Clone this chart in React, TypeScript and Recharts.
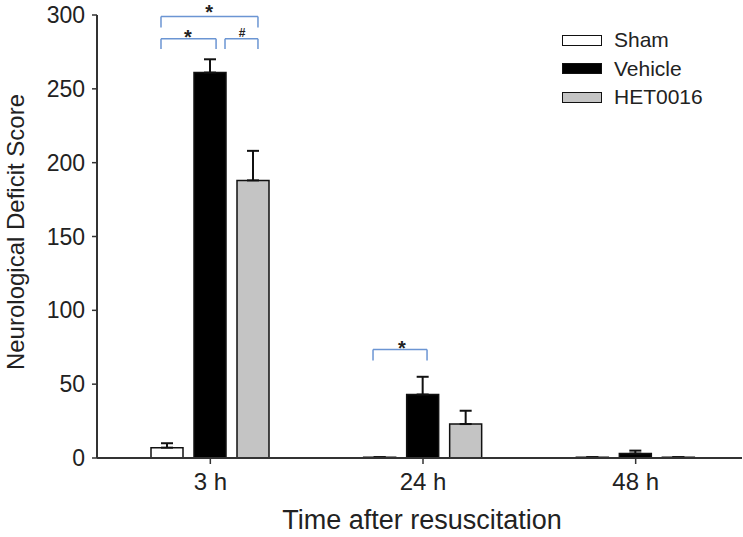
import { BarChart, Bar, XAxis, YAxis, ErrorBar, ReferenceLine, ReferenceDot } from 'recharts';

const categories = ['3 h', '24 h', '48 h'];
const shamMean = [7, 0.5, 0.5];
const shamErr = [3, 0, 0];
const vehicleMean = [261, 43, 3];
const vehicleErr = [9, 12, 2];
const hetMean = [188, 23, 0.5];
const hetErr = [20, 9, 0];
const yTicks = [0, 50, 100, 150, 200, 250, 300];

// significance brackets, x in group units (0..3), y in score units
const brackets = [
  { x1: 0.268, x2: 0.724, y: 299, drop: 7.5 },
  { x1: 0.268, x2: 0.527, y: 284, drop: 7 },
  { x1: 0.569, x2: 0.724, y: 284, drop: 7 },
  { x1: 1.265, x2: 1.519, y: 73.5, drop: 7.5 },
];
const marks = [
  { x: 0.494, y: 305, text: '*' },
  { x: 0.395, y: 288, text: '*' },
  { x: 0.649, y: 288, text: '#' },
  { x: 1.401, y: 77.5, text: '*' },
];

const series = [
  { key: 'sham', name: 'Sham', fill: '#ffffff' },
  { key: 'vehicle', name: 'Vehicle', fill: '#000000' },
  { key: 'het', name: 'HET0016', fill: '#c4c4c4' },
];

const data = categories.map((name, i) => ({
  name,
  pos: i + 0.5,
  sham: shamMean[i],
  shamE: [0, shamErr[i]],
  vehicle: vehicleMean[i],
  vehicleE: [0, vehicleErr[i]],
  het: hetMean[i],
  hetE: [0, hetErr[i]],
}));

const FONT = '"Liberation Sans", Arial, sans-serif';
const BLUE = '#6b95d3';
const AXIS = '#333';

function MarkShape(props: any) {
  const { cx, cy, text } = props;
  const size = text === '#' ? 12 : 20;
  const lift = text === '#' ? 0.36 : 0.57;
  return (
    <text x={cx} y={cy + size * lift} textAnchor="middle" fontSize={size} fontWeight="bold" fill="#222" fontFamily={FONT}>
      {text}
    </text>
  );
}

export default function App() {
  return (
    <div style={{ position: 'absolute', left: 0, top: 0, width: 743, height: 537, background: '#fff', fontFamily: FONT }}>
      <BarChart
        width={743}
        height={537}
        data={data}
        margin={{ top: 15, right: 1, bottom: 0, left: 0 }}
        barSize={32}
        barGap={11}
      >
        <XAxis
          dataKey="name"
          height={79}
          padding={{ left: 7, right: 0 }}
          axisLine={{ stroke: AXIS, strokeWidth: 2 }}
          tickLine={{ stroke: AXIS, strokeWidth: 1.5 }}
          tickSize={6}
          tickMargin={9}
          tick={{ fill: '#222', fontSize: 24, fontFamily: FONT }}
          label={() => (
            <text x={422} y={529} textAnchor="middle" fontSize={27} fill="#222" fontFamily={FONT}>
              Time after resuscitation
            </text>
          )}
        />
        <XAxis
          xAxisId="ann"
          dataKey="pos"
          type="number"
          domain={[0, 3]}
          allowDataOverflow
          padding={{ left: 7, right: 0 }}
          hide
        />
        <YAxis
          width={97}
          domain={[0, 300]}
          ticks={yTicks}
          axisLine={{ stroke: AXIS, strokeWidth: 2 }}
          tickLine={{ stroke: AXIS, strokeWidth: 1.5 }}
          tickSize={5}
          tickMargin={7}
          tick={{ fill: '#222', fontSize: 23, fontFamily: FONT }}
          label={() => (
            <text
              x={0}
              y={0}
              transform="translate(24,232) rotate(-90)"
              textAnchor="middle"
              fontSize={24}
              fill="#222"
              fontFamily={FONT}
            >
              Neurological Deficit Score
            </text>
          )}
        />
        {series.map((s) => (
          <Bar key={s.key} dataKey={s.key} name={s.name} fill={s.fill} stroke="#111" strokeWidth={1.5} isAnimationActive={false}>
            <ErrorBar dataKey={`${s.key}E`} direction="y" width={6} stroke="#111" strokeWidth={2} />
          </Bar>
        ))}
        {brackets.flatMap((b, i) => [
          <ReferenceLine key={`bl${i}`} xAxisId="ann" ifOverflow="visible" stroke={BLUE} strokeWidth={1.5}
            segment={[{ x: b.x1, y: b.y - b.drop }, { x: b.x1, y: b.y }]} />,
          <ReferenceLine key={`bt${i}`} xAxisId="ann" ifOverflow="visible" stroke={BLUE} strokeWidth={1.5}
            segment={[{ x: b.x1, y: b.y }, { x: b.x2, y: b.y }]} />,
          <ReferenceLine key={`br${i}`} xAxisId="ann" ifOverflow="visible" stroke={BLUE} strokeWidth={1.5}
            segment={[{ x: b.x2, y: b.y }, { x: b.x2, y: b.y - b.drop }]} />,
        ])}
        {marks.map((m, i) => (
          <ReferenceDot key={`m${i}`} xAxisId="ann" x={m.x} y={m.y} r={0} ifOverflow="visible"
            shape={(p: any) => <MarkShape {...p} text={m.text} />} />
        ))}
      </BarChart>
      {/* legend */}
      <div style={{ position: 'absolute', left: 562, top: 26 }}>
        {series.map((s) => (
          <div key={s.key} style={{ display: 'flex', alignItems: 'center', height: 28.5 }}>
            <span style={{ display: 'inline-block', width: 38, height: 9, background: s.fill, border: '1.5px solid #111', marginRight: 12 }} />
            <span style={{ fontSize: 21, color: '#222' }}>{s.name}</span>
          </div>
        ))}
      </div>
    </div>
  );
}
